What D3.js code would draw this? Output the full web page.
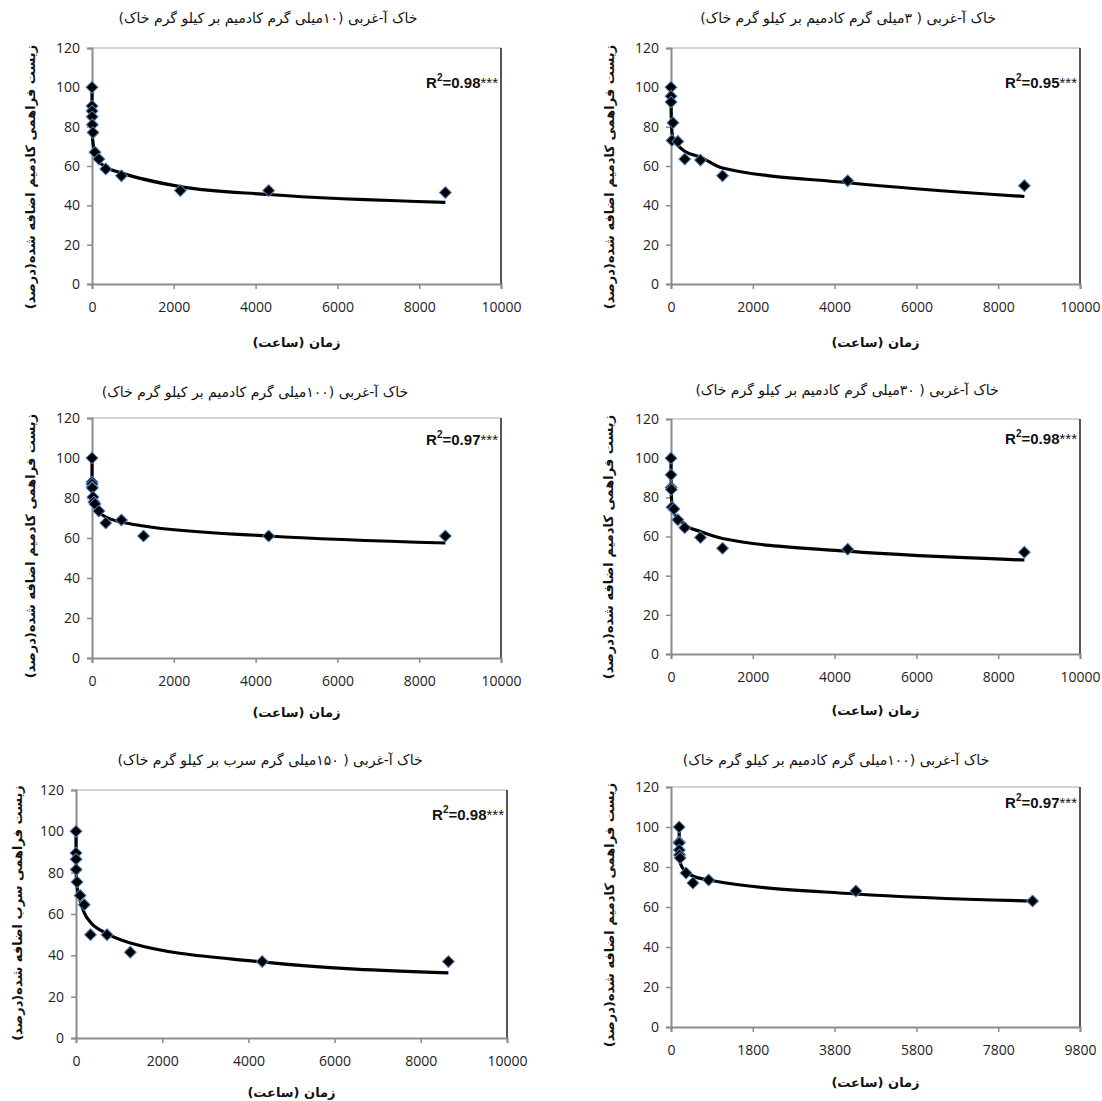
<!DOCTYPE html>
<html>
<head>
<meta charset="utf-8">
<script src="https://cdn.jsdelivr.net/npm/d3@7"></script>
<style>
  body { margin: 0; background: #fff; }
  svg { display: block; }
  .tick text { font-family: "Open Sans", sans-serif; font-size: 14px; fill: #222; }
  .fa { font-family: "DejaVu Sans", sans-serif; }
</style>
</head>
<body>
<svg id="chart" width="1102" height="1101"></svg>
<script>
// data (hours vs % of added metal still available)
var hours1 = [0, 1, 2, 4, 8, 24, 72, 168, 336, 720, 2160, 4320, 8640];
var avail1 = [100, 90.5, 88, 85, 81, 77, 67, 63.5, 58.5, 55, 47.5, 47.5, 46.5];
var fit1   = [100, 88, 84, 80, 76, 72, 66.5, 62.5, 59.5, 56.5, 49.5, 45.5, 41.5];

var hours2 = [0, 1, 2, 24, 48, 168, 336, 720, 1260, 4320, 8640];
var avail2 = [100, 95.5, 92.5, 73, 82, 72.5, 63.5, 63, 55, 52.5, 50];
var fit2   = [100, 94, 90, 77, 74.5, 70.5, 67.5, 64.5, 59, 51.5, 44.5];

var hours3 = [0, 1, 2, 4, 8, 24, 48, 72, 168, 336, 720, 1260, 4320, 8640];
var avail3 = [100, 88, 87, 85.5, 85, 80.5, 78, 77, 73.5, 67.5, 69, 61, 61, 61];
var fit3   = [100, 90, 87, 84, 82, 79, 77, 76, 73, 70.5, 68, 66, 61, 57.5];

var hours4 = [0, 2, 4, 8, 24, 72, 168, 336, 720, 1260, 4320, 8640];
var avail4 = [100, 91.5, 85, 84, 75, 74, 68.5, 64.5, 59.5, 54, 53.5, 52];
var fit4   = [100, 90, 85, 82, 76, 72, 69.5, 66, 62.5, 59, 52.5, 48];

var hours5 = [0, 1, 2, 4, 24, 96, 192, 336, 720, 1260, 4320, 8640];
var avail5 = [100, 89.5, 86.5, 81.5, 75.5, 69, 64.5, 50, 50, 41.5, 37, 37];
var fit5   = [100, 90, 85, 80, 73, 66.5, 60.5, 56, 50.5, 46, 36.8, 31.5];

var hours6 = [0, 1, 2, 4, 8, 24, 168, 336, 720, 4320, 8640];
var avail6 = [100, 92.5, 92, 88.5, 86, 84.5, 77, 72, 73.5, 68, 63];
var fit6   = [100, 92, 90, 87, 85, 82, 77.5, 75.5, 73.5, 66.5, 63];

var titles = [
  "خاک آ-غربی (۱۰میلی گرم کادمیم بر کیلو گرم خاک)",
  "خاک آ-غربی ( ۳میلی گرم کادمیم بر کیلو گرم خاک)",
  "خاک آ-غربی (۱۰۰میلی گرم کادمیم بر کیلو گرم خاک)",
  "خاک آ-غربی ( ۳۰میلی گرم کادمیم بر کیلو گرم خاک)",
  "خاک آ-غربی ( ۱۵۰میلی گرم سرب بر کیلو گرم خاک)",
  "خاک آ-غربی (۱۰۰میلی گرم کادمیم بر کیلو گرم خاک)"
];
var cdLabel = "زیست فراهمی کادمیم اضافه شده(درصد)";
var pbLabel = "زیست فراهمی سرب اضافه شده(درصد)";
var yLabels = [cdLabel, cdLabel, cdLabel, cdLabel, pbLabel, cdLabel];
var xLabel = "زمان (ساعت)";
var r2Labels = ["0.98", "0.95", "0.97", "0.98", "0.98", "0.97"];

var xTicks = [0, 2000, 4000, 6000, 8000, 10000];
var xTicksLast = [-200, 1800, 3800, 5800, 7800, 9800];
var xTickNamesLast = ["0", "1800", "3800", "5800", "7800", "9800"];
var yTicks = [0, 20, 40, 60, 80, 100, 120];

// panel layout (pixels)
var panels = [
  {l: 92,  r: 501,  t: 48,  b: 284,  tx: 268, ty: 18,  lx: 30,  ly: 177, xy: 342,  rdy: 34},
  {l: 671, r: 1080, t: 48,  b: 284,  tx: 848, ty: 18,  lx: 609, ly: 177, xy: 342,  rdy: 34},
  {l: 92,  r: 501,  t: 418, b: 658,  tx: 255, ty: 392, lx: 30,  ly: 546, xy: 712,  rdy: 21},
  {l: 671, r: 1080, t: 419, b: 654,  tx: 847, ty: 390, lx: 608, ly: 547, xy: 710,  rdy: 19},
  {l: 76,  r: 507,  t: 790, b: 1038, tx: 270, ty: 760, lx: 17,  ly: 913, xy: 1092, rdy: 24},
  {l: 671, r: 1080, t: 787, b: 1027, tx: 836, ty: 760, lx: 609, ly: 915, xy: 1082, rdy: 15}
];

var series = [
  [hours1, avail1, fit1], [hours2, avail2, fit2], [hours3, avail3, fit3],
  [hours4, avail4, fit4], [hours5, avail5, fit5], [hours6, avail6, fit6]
];

var svg = d3.select("#chart");

panels.forEach(function(p, i) {
  var last = (i === 5);
  var x = d3.scaleLinear()
      .domain(last ? [-200, 9800] : [0, 10000])
      .range([p.l, p.r]);
  var y = d3.scaleLinear().domain([0, 120]).range([p.b, p.t]);
  var g = svg.append("g");

  // frame: light top, darker right edge
  g.append("line").attr("x1", p.l).attr("x2", p.r).attr("y1", p.t).attr("y2", p.t)
      .attr("stroke", "#a6a6a6").attr("stroke-width", 1);
  g.append("line").attr("x1", p.r).attr("x2", p.r).attr("y1", p.t).attr("y2", p.b)
      .attr("stroke", "#555").attr("stroke-width", 2);

  var xAxis = d3.axisBottom(x).tickValues(last ? xTicksLast : xTicks)
      .tickSize(5).tickPadding(10)
      .tickFormat(function(d, k) { return last ? xTickNamesLast[k] : String(d); });
  var yAxis = d3.axisLeft(y).tickValues(yTicks).tickSize(5).tickPadding(7)
      .tickFormat(String);

  var gx = g.append("g").attr("transform", "translate(0," + p.b + ")").call(xAxis);
  var gy = g.append("g").attr("transform", "translate(" + p.l + ",0)").call(yAxis);
  [gx, gy].forEach(function(a) {
    a.select(".domain").attr("stroke", "#8c8c8c").attr("stroke-width", 2);
    a.selectAll(".tick line").attr("stroke", "#8c8c8c").attr("stroke-width", 1.5);
  });
  gx.selectAll(".tick text").attr("dy", "0.95em");

  var s = series[i];
  var pts = s[0].map(function(h, k) { return {h: h, v: s[1][k], f: s[2][k]}; });

  var line = d3.line()
      .x(function(d) { return x(d.h); })
      .y(function(d) { return y(d.f); })
      .curve(d3.curveMonotoneX);
  g.append("path").datum(pts).attr("d", line)
      .attr("fill", "none").attr("stroke", "#000").attr("stroke-width", 3.2);

  var diamond = d3.symbol().type(d3.symbolSquare).size(70);
  g.selectAll(".pt").data(pts).enter().append("path")
      .attr("class", "pt")
      .attr("d", diamond)
      .attr("transform", function(d) { return "translate(" + x(d.h) + "," + y(d.v) + ") rotate(45)"; })
      .attr("fill", "#000").attr("stroke", "#4f81bd").attr("stroke-width", 1);

  // R squared
  var r2 = g.append("text")
      .attr("x", p.r - 3).attr("y", p.t + p.rdy)
      .attr("text-anchor", "end")
      .attr("dominant-baseline", "central")
      .style("font-family", "'Liberation Sans', sans-serif")
      .style("font-size", "15px").style("font-weight", "bold").style("fill", "#111");
  r2.append("tspan").text("R");
  r2.append("tspan").attr("dy", -5).style("font-size", "10px").text("2");
  r2.append("tspan").attr("dy", 5).text("=" + r2Labels[i]);
  r2.append("tspan").style("font-weight", "normal").text("***");

  // title
  g.append("text").attr("class", "fa")
      .attr("x", p.tx).attr("y", p.ty)
      .attr("text-anchor", "middle").attr("dominant-baseline", "central")
      .attr("direction", "rtl")
      .style("font-size", "14px").style("fill", "#111")
      .text(titles[i]);

  // y label
  g.append("text").attr("class", "fa")
      .attr("transform", "translate(" + p.lx + "," + p.ly + ") rotate(-90)")
      .attr("text-anchor", "middle").attr("dominant-baseline", "central")
      .attr("direction", "rtl")
      .style("font-size", "13px").style("font-weight", "bold").style("fill", "#111")
      .text(yLabels[i]);

  // x label
  g.append("text").attr("class", "fa")
      .attr("x", (p.l + p.r) / 2).attr("y", p.xy)
      .attr("text-anchor", "middle").attr("dominant-baseline", "central")
      .attr("direction", "rtl")
      .style("font-size", "13px").style("font-weight", "bold").style("fill", "#111")
      .text(xLabel);
});
</script>
</body>
</html>
